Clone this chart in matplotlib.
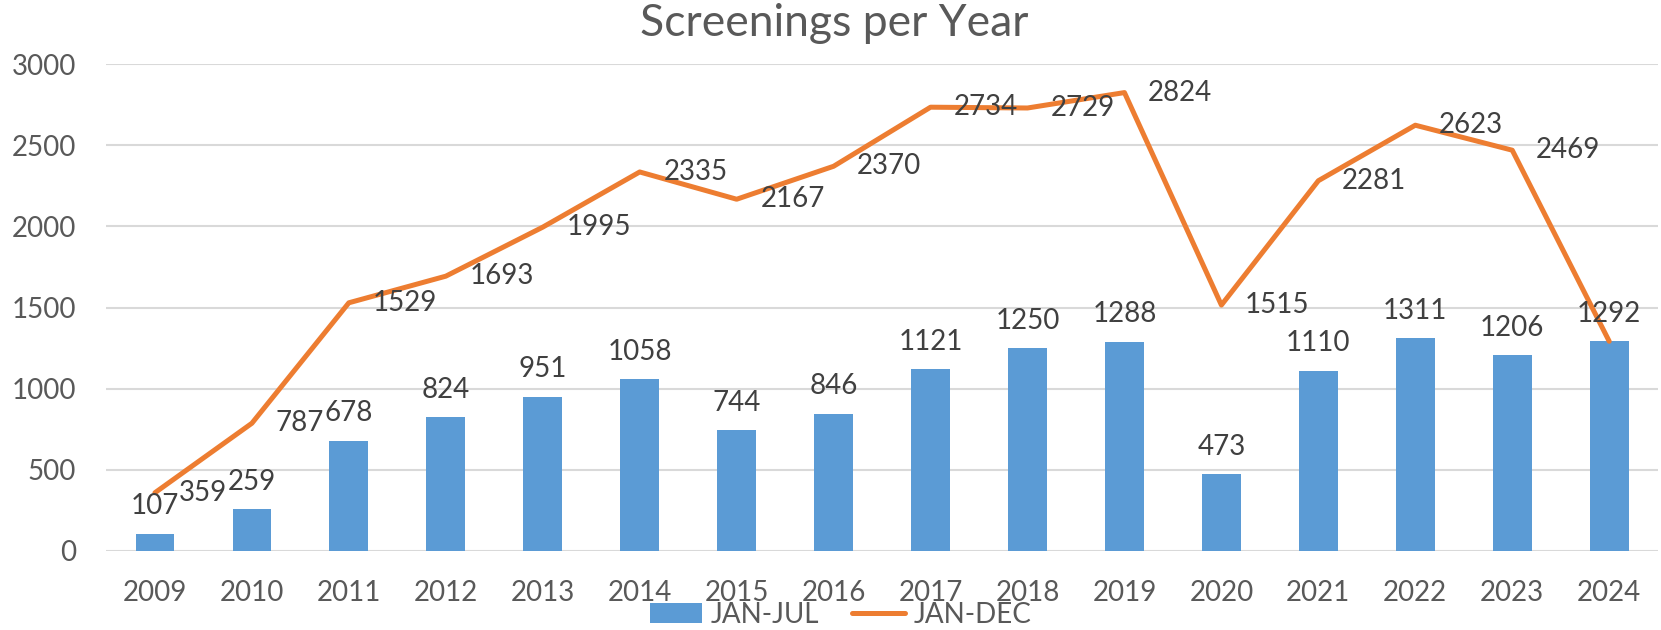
import numpy as np
import matplotlib.pyplot as plt

years = ['2009', '2010', '2011', '2012', '2013', '2014', '2015', '2016',
         '2017', '2018', '2019', '2020', '2021', '2022', '2023', '2024']
jan_jul = [107, 259, 678, 824, 951, 1058, 744, 846,
           1121, 1250, 1288, 473, 1110, 1311, 1206, 1292]
jan_dec = [359, 787, 1529, 1693, 1995, 2335, 2167, 2370,
           2734, 2729, 2824, 1515, 2281, 2623, 2469, 1292]

blue = '#5B9BD5'
orange = '#ED7D31'
grey = '#595959'
txt = '#404040'

plt.rcParams['font.family'] = ['Lato', 'DejaVu Sans']

fig = plt.figure(figsize=(16.61, 6.30), dpi=100)
ax = fig.add_axes([0.0641, 0.1254, 0.9339, 0.7730])

x = np.arange(len(years))
bars = ax.bar(x, jan_jul, width=0.4, color=blue, label='JAN-JUL', zorder=2)
ln, = ax.plot(x, jan_dec, color=orange, lw=3.6, label='JAN-DEC', zorder=3,
              solid_joinstyle='round', solid_capstyle='round')

# bar labels above bars
for xi, v in zip(x, jan_jul):
    ax.annotate(str(v), (xi, v), xytext=(0, 14), textcoords='offset points',
                ha='center', va='baseline', fontsize=20, color=txt, zorder=4)
# line labels to the right of points (last one falls off the chart)
for xi, v in zip(x[:-1], jan_dec[:-1]):
    ax.annotate(str(v), (xi, v), xytext=(17, 0), textcoords='offset points',
                ha='left', va='center', fontsize=20, color=txt, zorder=4)

ax.set_xlim(-0.5, len(years) - 0.5)
ax.set_ylim(0, 3000)
ax.set_yticks(range(0, 3001, 500))
ax.set_xticks(x)
ax.set_xticklabels(years)
ax.tick_params(axis='both', length=0, labelsize=20, labelcolor=grey)
ax.tick_params(axis='y', pad=22)
ax.tick_params(axis='x', pad=21)
ax.grid(axis='y', color='#D9D9D9', lw=1.5, zorder=0)
for s in ax.spines.values():
    s.set_visible(False)

fig.text(0.502, 0.962, 'Screenings per Year', ha='center', va='center',
         fontsize=32, color=grey)

fig.legend(handles=[bars, ln], labels=['JAN-JUL', 'JAN-DEC'],
           loc='center', bbox_to_anchor=(0.506, 0.024), ncol=2, frameon=False,
           fontsize=20, labelcolor=grey, handlelength=1.9, handleheight=0.7,
           handletextpad=0.3, columnspacing=1.2, borderpad=0.0)

fig.savefig('out.png', dpi=100)
